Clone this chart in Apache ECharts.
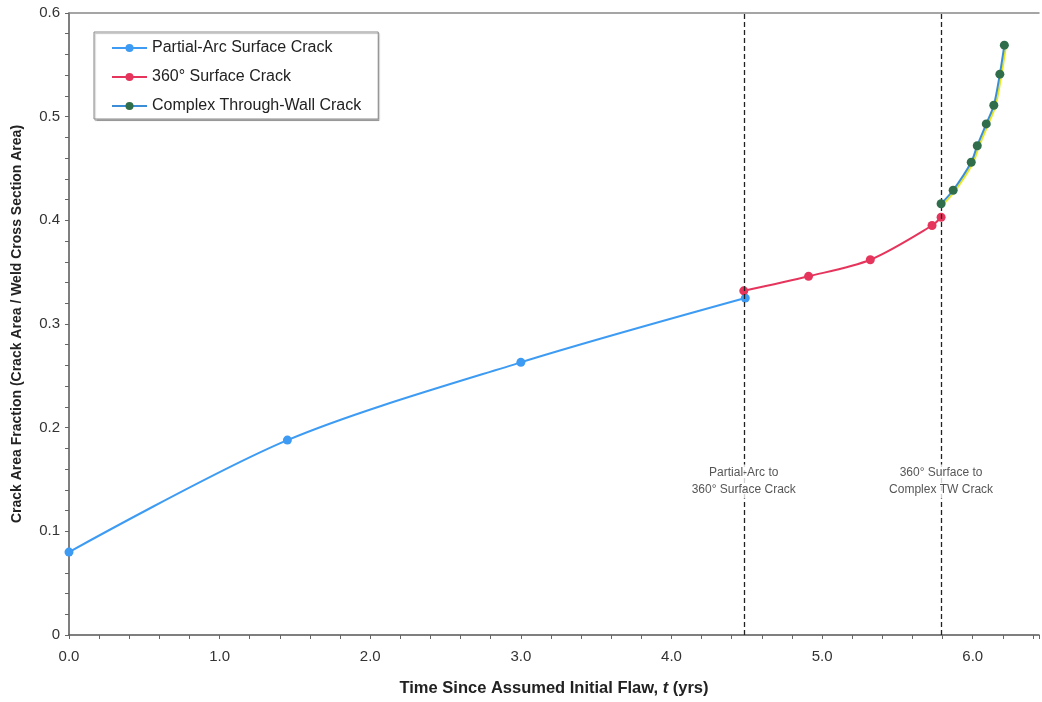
<!DOCTYPE html>
<html>
<head>
<meta charset="utf-8">
<script src="https://cdn.jsdelivr.net/npm/echarts@6/dist/echarts.min.js"></script>
<style>html,body{margin:0;padding:0;background:#fff}#c{width:1042px;height:702px}</style>
</head>
<body>
<div id="c"></div>
<script>
// Data
const partialArcT = [0.0, 1.45, 3.0, 4.49];
const partialArcA = [0.080, 0.188, 0.263, 0.325];
const surface360T = [4.48, 4.91, 5.32, 5.73, 5.79];
const surface360A = [0.332, 0.346, 0.362, 0.395, 0.403];
const complexTWT = [5.79, 5.87, 5.99, 6.03, 6.09, 6.14, 6.18, 6.21];
const complexTWA = [0.416, 0.429, 0.456, 0.472, 0.493, 0.511, 0.541, 0.569];
const transitionTimes = [4.48, 5.79];
const transitionLabels = ['Partial-Arc to\n360° Surface Crack', '360° Surface to\nComplex TW Crack'];
const xTickLabels = ['0.0', '1.0', '2.0', '3.0', '4.0', '5.0', '6.0'];
const yTickLabels = ['0', '0.1', '0.2', '0.3', '0.4', '0.5', '0.6'];

const zip = (a, b) => a.map((v, i) => [v, b[i]]);
const FONT = "'Liberation Sans', Arial, sans-serif";
const XMAX = 6.44;

const chart = echarts.init(document.getElementById('c'), null, {renderer: 'canvas'});
chart.setOption({
  animation: false,
  backgroundColor: '#fff',
  grid: {left: 69, top: 13, right: 0, bottom: 64, containLabel: false},
  legend: {
    orient: 'vertical', left: 94, top: 32,
    padding: [8, 17, 5, 17],
    itemWidth: 35, itemHeight: 10, itemGap: 13,
    backgroundColor: '#fff', borderColor: '#8a8a8a', borderWidth: 1,
    shadowColor: 'rgba(0,0,0,0.25)', shadowOffsetX: 1, shadowOffsetY: 1.5, shadowBlur: 1,
    textStyle: {fontFamily: FONT, fontSize: 16, color: '#222'},
    data: ['Partial-Arc Surface Crack', '360° Surface Crack', 'Complex Through-Wall Crack']
  },
  xAxis: [{
    type: 'value', min: 0, max: XMAX, interval: 1,
    name: '{b|Time Since Assumed Initial Flaw, }{i|t}{b| (yrs)}',
    nameLocation: 'middle', nameGap: 45,
    nameTextStyle: {rich: {
      b: {fontFamily: FONT, fontWeight: 'bold', fontSize: 16.5, color: '#222'},
      i: {fontFamily: FONT, fontWeight: 'bold', fontStyle: 'italic', fontSize: 16.5, color: '#222'}
    }},
    axisLine: {show: true, lineStyle: {color: '#555', width: 1.5}},
    axisTick: {show: false},
    splitLine: {show: false},
    axisLabel: {
      fontFamily: FONT, fontSize: 15, color: '#333', margin: 14,
      formatter: v => { const i = Math.round(v); return Math.abs(v - i) < 1e-6 && xTickLabels[i] !== undefined ? xTickLabels[i] : ''; }
    }
  }, {
    type: 'value', min: 0, max: XMAX, interval: 0.2, position: 'bottom',
    axisLine: {show: false},
    axisTick: {show: true, length: 4, lineStyle: {color: '#666', width: 1}},
    axisLabel: {show: false}, splitLine: {show: false}
  }, {
    type: 'value', min: 0, max: XMAX, position: 'top',
    axisLine: {show: true, lineStyle: {color: '#888', width: 1.5}},
    axisTick: {show: false}, axisLabel: {show: false}, splitLine: {show: false}
  }],
  yAxis: {
    type: 'value', min: 0, max: 0.6, interval: 0.1,
    name: 'Crack Area Fraction (Crack Area / Weld Cross Section Area)',
    nameLocation: 'middle', nameGap: 45,
    nameTextStyle: {fontFamily: FONT, fontWeight: 'bold', fontSize: 14, color: '#222'},
    axisLine: {show: true, lineStyle: {color: '#555', width: 1.5}},
    axisTick: {show: true, length: 4, lineStyle: {color: '#666'}},
    minorTick: {show: true, splitNumber: 5, length: 4, lineStyle: {color: '#666'}},
    splitLine: {show: false},
    axisLabel: {
      fontFamily: FONT, fontSize: 15, color: '#333', margin: 9,
      formatter: v => yTickLabels[Math.round(v * 10)]
    }
  },
  series: [{
    name: 'Partial-Arc Surface Crack', type: 'line',
    data: zip(partialArcT, partialArcA), smooth: 0.3,
    symbol: 'circle', symbolSize: 9,
    lineStyle: {color: '#3d9bf3', width: 2}, itemStyle: {color: '#3d9bf3'},
    z: 3,
    markLine: {
      silent: true, symbol: 'none', animation: false,
      label: {show: false},
      lineStyle: {color: '#222', type: [5, 3], width: 1.3},
      data: transitionTimes.map(t => ({xAxis: t}))
    }
  }, {
    name: '360° Surface Crack', type: 'line',
    data: zip(surface360T, surface360A), smooth: 0.3,
    symbol: 'circle', symbolSize: 9,
    lineStyle: {color: '#e6355c', width: 2}, itemStyle: {color: '#e6355c'},
    z: 4
  }, {
    name: 'Complex Through-Wall Crack', type: 'line',
    data: zip(complexTWT, complexTWA), smooth: 0.3,
    symbol: 'circle', symbolSize: 9,
    lineStyle: {color: '#3b8ed6', width: 2, shadowColor: 'rgba(225,225,0,0.95)', shadowBlur: 1, shadowOffsetX: 1.5, shadowOffsetY: 1},
    itemStyle: {color: '#2f6d4b'},
    z: 5
  }, {
    name: 'annotations', type: 'scatter',
    data: transitionTimes.map((t, i) => ({value: [t, 0.148], label: {formatter: transitionLabels[i]}})),
    symbolSize: 0, silent: true, z: 6,
    label: {
      show: true, position: 'inside',
      fontFamily: FONT, fontSize: 12, color: '#2a2a2a', lineHeight: 17,
      backgroundColor: '#fff', padding: [0, 1]
    }
  }]
});
</script>
</body>
</html>
